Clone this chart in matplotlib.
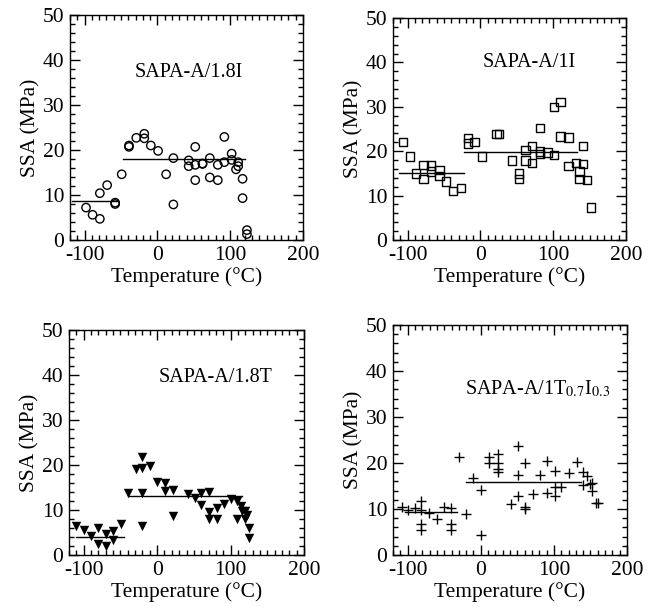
import matplotlib
matplotlib.use("Agg")
import matplotlib.pyplot as plt
from matplotlib.ticker import MultipleLocator

plt.rcParams['font.family'] = ['Liberation Serif', 'DejaVu Serif']
plt.rcParams['mathtext.fontset'] = 'stix'
plt.rcParams['axes.unicode_minus'] = False

## Data

# SAPA-A/1.8I (open circles)
t_18i = [-98, -89, -79, -79, -69, -58, -58, -49, -39, -39, -29, -18, -18, -9, 1,
         12, 22, 22, 43, 43, 52, 52, 52, 62, 62, 72, 72, 83, 83, 92, 92, 102, 102,
         108, 111, 111, 117, 117, 123, 123]
s_18i = [7.2, 5.6, 4.7, 10.4, 12.2, 8.3, 8.0, 14.6, 21.0, 20.7, 22.7, 23.6, 22.6, 21.0, 19.8,
         14.6, 18.2, 7.9, 17.7, 16.4, 20.7, 16.7, 13.3, 16.9, 17.0, 18.2, 13.9, 16.7, 13.3, 22.9, 17.3, 19.2, 17.8,
         15.7, 17.3, 16.4, 13.6, 9.3, 2.2, 1.3]
fit_18i_low = ([-117, -55], [8.6, 8.6])
fit_18i_high = ([-47, 120], [18.0, 18.0])

# SAPA-A/1I (open squares)
t_1i = [-106, -97, -88, -78, -78, -68, -68, -56, -56, -47, -38, -27, -17, -17, -8, 2,
        22, 26, 43, 53, 53, 62, 62, 71, 71, 82, 82, 82, 92, 101, 101, 110, 110,
        121, 121, 131, 136, 136, 141, 141, 146, 152]
s_1i = [22.0, 18.8, 15.0, 16.9, 13.8, 16.8, 15.4, 15.8, 14.4, 13.2, 11.1, 11.7, 22.9, 21.7, 22.0, 18.8,
        23.9, 23.9, 17.9, 15.0, 13.8, 20.3, 17.9, 21.1, 17.3, 25.3, 19.9, 19.4, 19.7, 29.9, 19.2, 31.1, 23.3,
        23.1, 16.7, 17.4, 15.4, 13.8, 21.1, 17.1, 13.5, 7.3]
fit_1i_low = ([-112, -23], [15.0, 15.0])
fit_1i_high = ([-23, 133], [19.9, 19.9])

# SAPA-A/1.8T (filled down triangles)
t_18t = [-111, -100, -90, -80, -80, -70, -70, -60, -60, -49, -40, -29, -20, -20, -20, -20,
         -10, 0, 11, 11, 21, 21, 42, 52, 60, 60, 70, 70, 70, 81, 81, 91, 101,
         109, 109, 114, 116, 120, 120, 123, 125, 125]
s_18t = [6.5, 5.6, 4.3, 6.0, 2.4, 4.7, 1.9, 5.3, 3.4, 6.9, 13.8, 19.2, 21.7, 19.3, 13.8, 6.4,
         19.8, 16.3, 16.0, 14.3, 14.5, 8.6, 13.5, 12.6, 13.7, 11.1, 13.9, 9.6, 7.9, 10.4, 7.9, 11.4, 12.4,
         12.0, 8.0, 10.9, 9.8, 9.8, 7.9, 9.0, 6.0, 3.8]
fit_18t_low = ([-110, -45], [4.1, 4.1])
fit_18t_high = ([-38, 116], [13.2, 13.2])

# SAPA-A/1T0.7I0.3 (plus signs)
t_1ti = [-108, -99, -90, -82, -82, -82, -82, -71, -60, -50, -41, -41, -41, -30, -20, -10,
         0, 0, 11, 11, 23, 24, 24, 24, 42, 51, 51, 51, 60, 60, 60, 71, 81, 91, 91,
         101, 101, 101, 110, 121, 131, 140, 140, 145, 150, 152, 152, 157, 161]
s_1ti = [10.5, 9.8, 10.2, 11.7, 9.8, 6.8, 5.5, 9.2, 7.9, 10.4, 10.2, 6.8, 5.5, 21.4, 9.0, 16.8,
         14.1, 4.3, 21.3, 19.9, 19.9, 22.0, 18.8, 18.0, 11.1, 23.7, 17.3, 12.8, 20.1, 10.5, 9.9, 13.3, 17.3, 20.5, 13.5,
         18.2, 14.7, 12.8, 14.7, 17.9, 20.2, 18.0, 15.2, 17.1, 15.4, 15.6, 13.9, 11.3, 11.3]
fit_1ti_low = ([-104, -32], [9.4, 9.4])
fit_1ti_high = ([-20, 137], [15.8, 15.8])

W, H = 657, 609
fig = plt.figure(figsize=(W / 100, H / 100), dpi=100)


def make_axes(x0, x1, y0, y1):
    # pixel box -> figure fraction
    return fig.add_axes([x0 / W, 1 - y1 / H, (x1 - x0) / W, (y1 - y0) / H])


def style_axes(ax):
    ax.set_xlim(-120, 200)
    ax.set_ylim(0, 50)
    ax.xaxis.set_major_locator(MultipleLocator(100))
    ax.xaxis.set_minor_locator(MultipleLocator(10))
    ax.yaxis.set_major_locator(MultipleLocator(10))
    ax.yaxis.set_minor_locator(MultipleLocator(2))
    ax.tick_params(which='both', direction='in', top=True, right=True, labelsize=15.5, width=1)
    ax.tick_params(which='major', length=7, pad=4)
    ax.tick_params(which='minor', length=3.5)
    for sp in ax.spines.values():
        sp.set_linewidth(1)
    ax.set_xlabel('Temperature (°C)', fontsize=15.5, labelpad=2)
    ax.set_ylabel('SSA (MPa)', fontsize=15.5, labelpad=2)


panels = [
    (make_axes(70, 303, 15, 240), t_18i, s_18i, fit_18i_low, fit_18i_high,
     dict(marker='o', facecolors='none', edgecolors='black', s=36, linewidths=1),
     'SAPA-A/1.8I', (43, 37.3)),
    (make_axes(393, 626, 18, 240), t_1i, s_1i, fit_1i_low, fit_1i_high,
     dict(marker='s', facecolors='none', edgecolors='black', s=36, linewidths=1),
     'SAPA-A/1I', (67, 40)),
    (make_axes(69, 304, 330, 555), t_18t, s_18t, fit_18t_low, fit_18t_high,
     dict(marker='v', color='black', s=46, linewidths=0),
     'SAPA-A/1.8T', (80, 39.4)),
    (make_axes(393, 627, 325, 555), t_1ti, s_1ti, fit_1ti_low, fit_1ti_high,
     dict(marker='+', color='black', s=44, linewidths=1),
     'SAPA-A/1T$_{0.7}$I$_{0.3}$', (78, 36)),
]

for ax, t, s, low, high, mk, name, pos in panels:
    ax.scatter(t, s, zorder=3, **mk)
    ax.plot(low[0], low[1], color='black', lw=1)
    ax.plot(high[0], high[1], color='black', lw=1)
    ax.text(pos[0], pos[1], name, fontsize=14.5, ha='center', va='center')
    style_axes(ax)

fig.savefig('out.png', dpi=100)
